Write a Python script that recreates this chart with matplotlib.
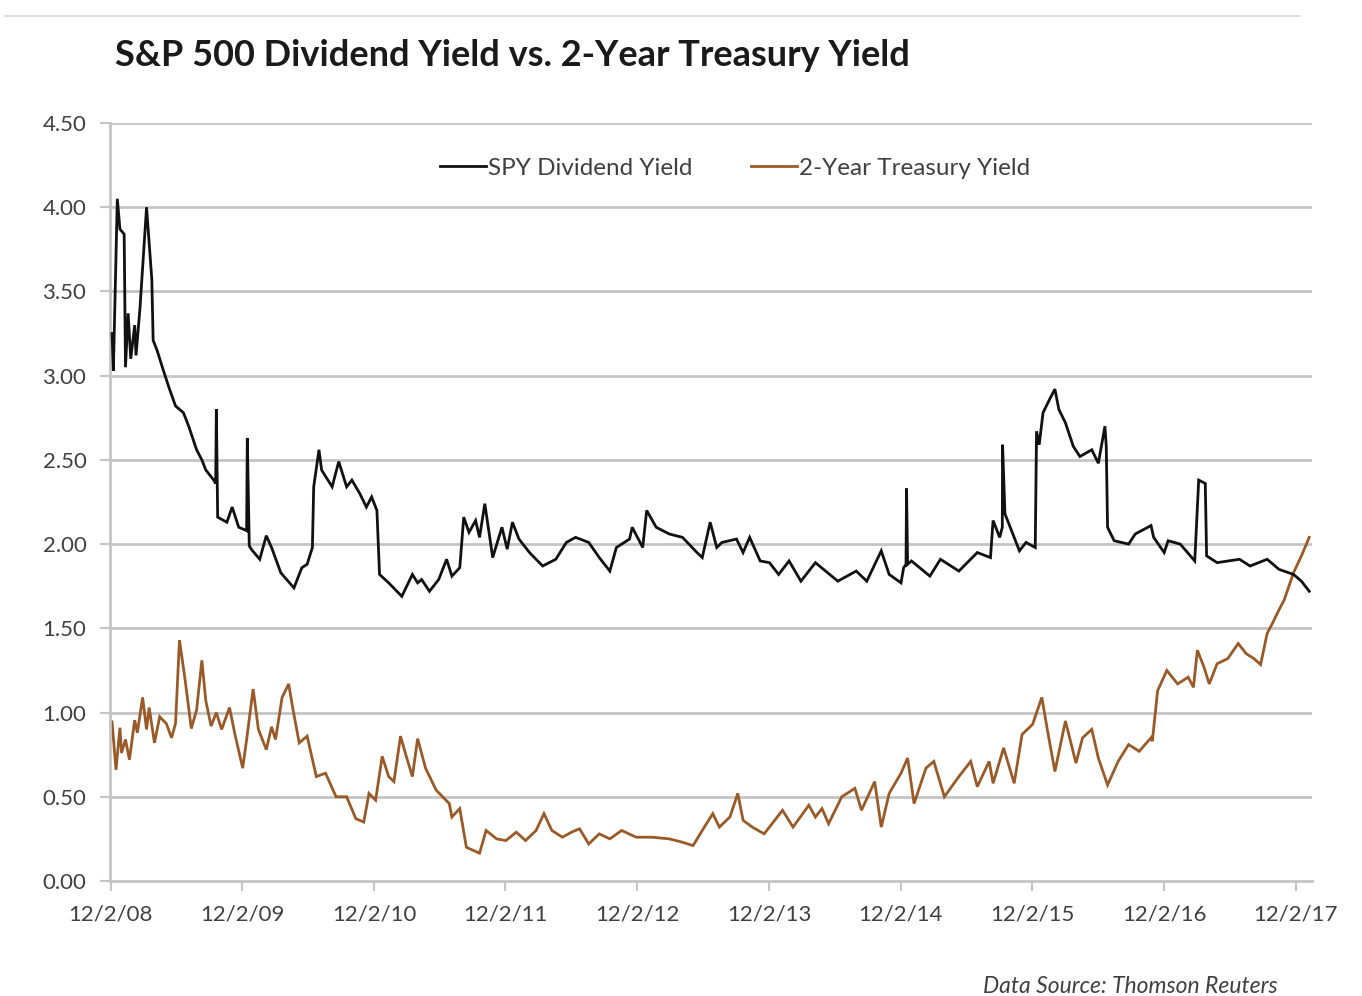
import matplotlib
matplotlib.use("Agg")
import matplotlib.pyplot as plt
from matplotlib.lines import Line2D
import pandas as pd
import numpy as np

title = "S&P 500 Dividend Yield vs. 2-Year Treasury Yield"
series_names = ["SPY Dividend Yield", "2-Year Treasury Yield"]
source_note = "Data Source: Thomson Reuters"
y_ticks = [0.0, 0.5, 1.0, 1.5, 2.0, 2.5, 3.0, 3.5, 4.0, 4.5]
x_tick_years = [2008, 2009, 2010, 2011, 2012, 2013, 2014, 2015, 2016, 2017]
x_tick_labels = ["12/2/08", "12/2/09", "12/2/10", "12/2/11", "12/2/12",
                 "12/2/13", "12/2/14", "12/2/15", "12/2/16", "12/2/17"]

# SPY dividend yield (decimal year, value)
spy_years = [2008.93, 2008.94, 2008.97, 2008.99, 2009.02, 2009.03, 2009.05, 2009.07, 2009.10, 2009.11,
             2009.14, 2009.19, 2009.23, 2009.24, 2009.27, 2009.31, 2009.36, 2009.41, 2009.47, 2009.51,
             2009.57, 2009.61, 2009.64, 2009.70, 2009.715, 2009.72, 2009.73, 2009.80, 2009.84, 2009.89,
             2009.95, 2009.955, 2009.97, 2009.985, 2010.05, 2010.10, 2010.14, 2010.21, 2010.31, 2010.37,
             2010.41, 2010.45, 2010.46, 2010.50, 2010.52, 2010.60, 2010.65, 2010.71, 2010.75, 2010.81,
             2010.86, 2010.90, 2010.94, 2010.96, 2011.03, 2011.13, 2011.21, 2011.25, 2011.28, 2011.34,
             2011.41, 2011.47, 2011.51, 2011.57, 2011.60, 2011.64, 2011.69, 2011.72, 2011.76, 2011.82,
             2011.89, 2011.93, 2011.97, 2012.02, 2012.10, 2012.20, 2012.30, 2012.38, 2012.45, 2012.55,
             2012.63, 2012.71, 2012.76, 2012.86, 2012.88, 2012.96, 2012.99, 2013.06, 2013.16, 2013.26,
             2013.37, 2013.41, 2013.47, 2013.52, 2013.56, 2013.67, 2013.72, 2013.77, 2013.85, 2013.92,
             2013.99, 2014.07, 2014.16, 2014.27, 2014.44, 2014.58, 2014.66, 2014.77, 2014.83, 2014.92,
             2014.94, 2014.958, 2014.962, 2014.97, 2015.00, 2015.14, 2015.22, 2015.36, 2015.50, 2015.60,
             2015.62, 2015.67, 2015.69, 2015.692, 2015.71, 2015.77, 2015.82, 2015.87, 2015.94, 2015.95,
             2015.97, 2016.00, 2016.05, 2016.09, 2016.12, 2016.17, 2016.23, 2016.28, 2016.37, 2016.42,
             2016.47, 2016.48, 2016.49, 2016.54, 2016.65, 2016.70, 2016.82, 2016.84, 2016.92, 2016.95,
             2017.04, 2017.15, 2017.18, 2017.23, 2017.24, 2017.32, 2017.49, 2017.57, 2017.70, 2017.79,
             2017.90, 2017.96, 2018.02]
spy_values = [3.25, 3.03, 4.05, 3.87, 3.84, 3.05, 3.37, 3.10, 3.30, 3.12,
              3.40, 4.00, 3.57, 3.21, 3.15, 3.05, 2.93, 2.82, 2.78, 2.70,
              2.56, 2.50, 2.44, 2.38, 2.36, 2.80, 2.16, 2.13, 2.22, 2.10,
              2.08, 2.63, 1.99, 1.97, 1.91, 2.05, 1.98, 1.83, 1.74, 1.86,
              1.88, 1.98, 2.34, 2.56, 2.44, 2.34, 2.49, 2.34, 2.38, 2.30,
              2.22, 2.28, 2.20, 1.82, 1.77, 1.69, 1.82, 1.77, 1.79, 1.72,
              1.79, 1.91, 1.81, 1.86, 2.16, 2.07, 2.14, 2.04, 2.24, 1.92,
              2.10, 1.97, 2.13, 2.03, 1.95, 1.87, 1.91, 2.01, 2.04, 2.01,
              1.92, 1.84, 1.98, 2.03, 2.10, 1.98, 2.20, 2.10, 2.06, 2.04,
              1.95, 1.92, 2.13, 1.98, 2.01, 2.03, 1.95, 2.04, 1.90, 1.89,
              1.82, 1.90, 1.78, 1.89, 1.78, 1.84, 1.78, 1.96, 1.82, 1.77,
              1.86, 1.88, 2.33, 1.88, 1.90, 1.81, 1.91, 1.84, 1.95, 1.92,
              2.14, 2.04, 2.10, 2.59, 2.18, 2.06, 1.96, 2.01, 1.98, 2.67,
              2.59, 2.78, 2.86, 2.92, 2.80, 2.72, 2.58, 2.52, 2.56, 2.48,
              2.70, 2.58, 2.10, 2.02, 2.00, 2.06, 2.11, 2.04, 1.95, 2.02,
              2.00, 1.90, 2.38, 2.36, 1.93, 1.89, 1.91, 1.87, 1.91, 1.85,
              1.82, 1.78, 1.72]

# 2-year treasury yield (decimal year, value)
tsy_years = [2008.93, 2008.96, 2008.99, 2009.00, 2009.03, 2009.06, 2009.10, 2009.12, 2009.16, 2009.19,
             2009.21, 2009.25, 2009.29, 2009.34, 2009.38, 2009.41, 2009.44, 2009.48, 2009.50, 2009.53,
             2009.57, 2009.61, 2009.64, 2009.68, 2009.72, 2009.76, 2009.82, 2009.86, 2009.92, 2009.95,
             2010.00, 2010.04, 2010.10, 2010.14, 2010.17, 2010.22, 2010.27, 2010.30, 2010.35, 2010.41,
             2010.48, 2010.55, 2010.63, 2010.71, 2010.78, 2010.84, 2010.88, 2010.93, 2010.98, 2011.03,
             2011.07, 2011.12, 2011.16, 2011.21, 2011.25, 2011.31, 2011.39, 2011.49, 2011.51, 2011.57,
             2011.62, 2011.72, 2011.77, 2011.85, 2011.92, 2012.00, 2012.07, 2012.15, 2012.21, 2012.27,
             2012.35, 2012.42, 2012.48, 2012.55, 2012.63, 2012.71, 2012.80, 2012.91, 2013.03, 2013.16,
             2013.26, 2013.34, 2013.41, 2013.49, 2013.54, 2013.62, 2013.68, 2013.72, 2013.79, 2013.88,
             2014.02, 2014.10, 2014.22, 2014.27, 2014.32, 2014.37, 2014.47, 2014.57, 2014.62, 2014.72,
             2014.77, 2014.83, 2014.92, 2014.97, 2015.02, 2015.11, 2015.17, 2015.25, 2015.36, 2015.45,
             2015.50, 2015.59, 2015.62, 2015.70, 2015.78, 2015.84, 2015.92, 2015.99, 2016.03, 2016.09,
             2016.17, 2016.25, 2016.30, 2016.37, 2016.42, 2016.49, 2016.57, 2016.65, 2016.73, 2016.82,
             2016.83, 2016.87, 2016.94, 2017.02, 2017.10, 2017.14, 2017.17, 2017.22, 2017.26, 2017.32,
             2017.40, 2017.48, 2017.54, 2017.60, 2017.65, 2017.70, 2017.74, 2017.79, 2017.83, 2017.90,
             2017.96, 2018.02]
tsy_values = [0.945, 0.66, 0.91, 0.76, 0.84, 0.72, 0.955, 0.88, 1.09, 0.90,
              1.03, 0.82, 0.975, 0.935, 0.85, 0.935, 1.43, 1.21, 1.09, 0.905,
              1.015, 1.31, 1.07, 0.92, 1.00, 0.90, 1.03, 0.875, 0.67, 0.84,
              1.14, 0.90, 0.78, 0.915, 0.84, 1.09, 1.17, 1.03, 0.82, 0.86,
              0.62, 0.64, 0.50, 0.50, 0.37, 0.35, 0.52, 0.48, 0.74, 0.62,
              0.59, 0.86, 0.75, 0.62, 0.845, 0.67, 0.54, 0.46, 0.38, 0.43,
              0.20, 0.165, 0.30, 0.25, 0.24, 0.29, 0.24, 0.30, 0.40, 0.30,
              0.26, 0.29, 0.31, 0.22, 0.28, 0.25, 0.30, 0.26, 0.26, 0.25,
              0.23, 0.21, 0.30, 0.40, 0.32, 0.38, 0.52, 0.36, 0.32, 0.28,
              0.42, 0.32, 0.45, 0.38, 0.43, 0.34, 0.50, 0.55, 0.42, 0.59,
              0.32, 0.52, 0.64, 0.73, 0.46, 0.67, 0.71, 0.50, 0.62, 0.71,
              0.56, 0.71, 0.58, 0.79, 0.58, 0.87, 0.93, 1.09, 0.91, 0.65,
              0.95, 0.70, 0.85, 0.90, 0.73, 0.57, 0.71, 0.81, 0.77, 0.85,
              0.83, 1.13, 1.25, 1.17, 1.21, 1.15, 1.37, 1.27, 1.17, 1.29,
              1.32, 1.41, 1.35, 1.32, 1.285, 1.47, 1.53, 1.61, 1.67, 1.83,
              1.93, 2.04]


def to_dates(decimal_years):
    out = []
    for d in decimal_years:
        y = int(np.floor(d))
        start = pd.Timestamp(year=y, month=1, day=1)
        out.append(start + pd.Timedelta(days=(d - y) * 365.25))
    return out


W, H = 1362, 996
fig = plt.figure(figsize=(W / 100, H / 100), dpi=100)
fig.patch.set_facecolor("white")
ax = fig.add_axes([110 / W, 1 - 881 / H, (1312 - 110) / W, (881 - 123) / H])

grid_c = "#c4c4c4"
text_c = "#404040"
black_c = "#111111"
brown_c = "#9a5a28"

for v in y_ticks[1:]:
    ax.axhline(v, color=grid_c, lw=2.0, zorder=1)

ax.plot(to_dates(spy_years), spy_values, color=black_c, lw=2.0, zorder=3,
        solid_joinstyle="miter", label=series_names[0])
ax.plot(to_dates(tsy_years), tsy_values, color=brown_c, lw=2.0, zorder=2,
        solid_joinstyle="miter", label=series_names[1])

ax.set_ylim(0, 4.5)
ax.set_xlim(pd.Timestamp("2008-11-30"), pd.Timestamp("2018-01-16"))
ax.set_yticks(y_ticks)
ax.set_yticklabels([f"{v:.2f}" for v in y_ticks])
ax.set_xticks([pd.Timestamp(year=y, month=12, day=2) for y in x_tick_years])
ax.set_xticklabels(x_tick_labels)

for s in ["top", "right"]:
    ax.spines[s].set_visible(False)
for s in ["left", "bottom"]:
    ax.spines[s].set_color(grid_c)
    ax.spines[s].set_linewidth(2.0)
ax.tick_params(axis="both", colors=grid_c, width=1.5, length=7, direction="out",
               labelcolor=text_c, labelsize=16)
ax.tick_params(axis="x", pad=10)
ax.tick_params(axis="y", pad=10)
for lab in ax.get_xticklabels() + ax.get_yticklabels():
    lab.set_family("Lato")

leg = ax.legend(loc="upper center", bbox_to_anchor=(0.52, 0.983), ncol=2, frameon=False,
                handlelength=1.9, handletextpad=0.1, columnspacing=2.4,
                prop={"family": "Lato", "size": 17.5})
for t in leg.get_texts():
    t.set_color(text_c)

fig.text(115 / W, 1 - 56 / H, title, family="Lato", weight="bold", size=26,
         color="#1a1a1a", ha="left", va="center")
fig.text(1278 / W, 1 - 986 / H, source_note, family="Lato", style="italic", size=16.5,
         color=text_c, ha="right", va="center")

fig.add_artist(Line2D([5 / W, 1300 / W], [1 - 16 / H, 1 - 16 / H], color="#d8d8d8", lw=1.2))

fig.savefig("out.png", dpi=100)
